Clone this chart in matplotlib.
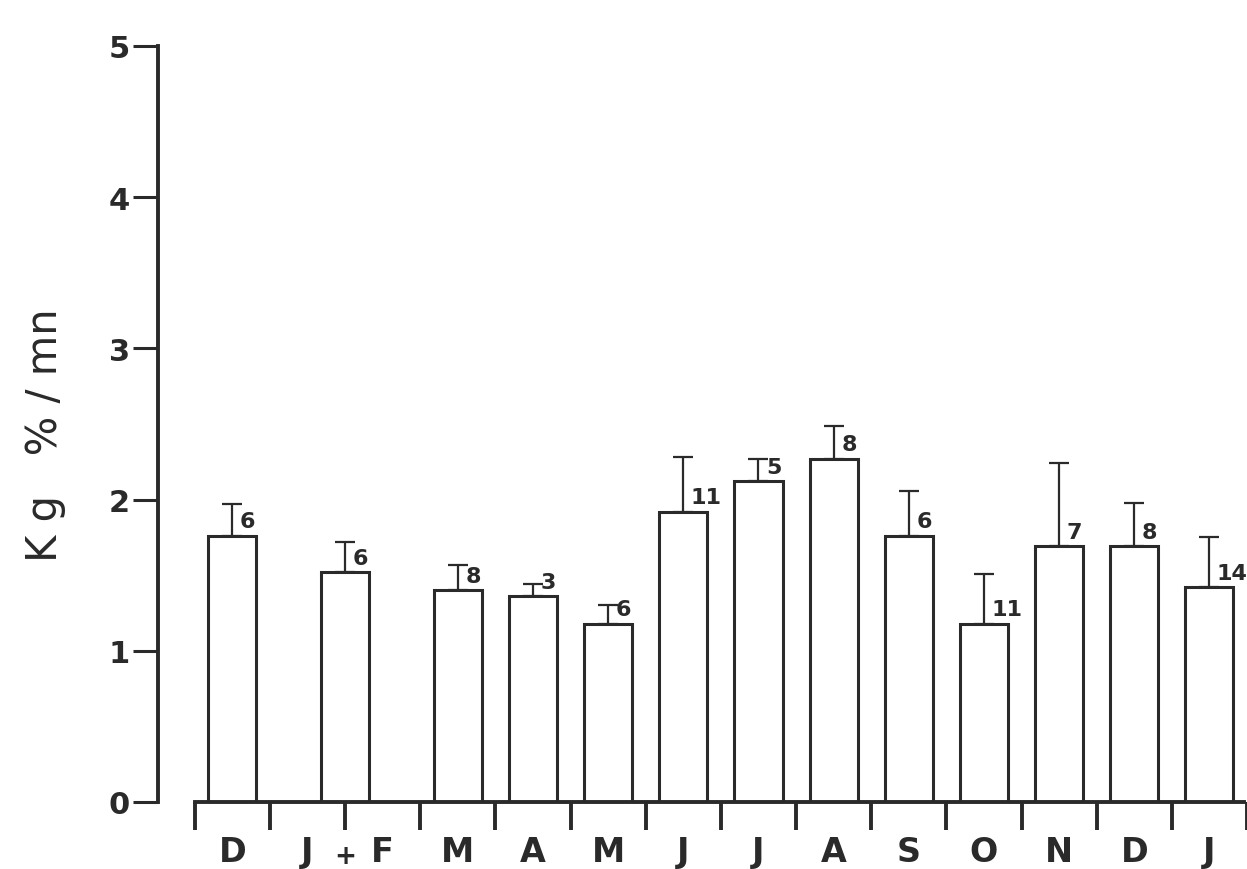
import matplotlib
matplotlib.use('Agg')
import matplotlib.pyplot as plt

# month groups, bar positions (in month units) and values
months = ['D', 'J+F', 'M', 'A', 'M', 'J', 'J', 'A', 'S', 'O', 'N', 'D', 'J']
positions = [0, 1.5, 3, 4, 5, 6, 7, 8, 9, 10, 11, 12, 13]
means = [1.76, 1.52, 1.40, 1.36, 1.18, 1.92, 2.12, 2.27, 1.76, 1.18, 1.69, 1.69, 1.42]
upper = [1.97, 1.72, 1.57, 1.44, 1.30, 2.28, 2.27, 2.49, 2.06, 1.51, 2.24, 1.98, 1.75]
counts = ['6', '6', '8', '3', '6', '11', '5', '8', '6', '11', '7', '8', '14']

axis_labels = ['D', 'J', 'F', 'M', 'A', 'M', 'J', 'J', 'A', 'S', 'O', 'N', 'D', 'J']
axis_label_pos = [0, 1, 2, 3, 4, 5, 6, 7, 8, 9, 10, 11, 12, 13]
plus_pos = 1.5

y_ticks = [0, 1, 2, 3, 4, 5]

ink = '#2a2a2a'
lw = 2.2

fig = plt.figure(figsize=(12.47, 8.70), dpi=100)
ax = fig.add_axes([158 / 1247, 67 / 870, 1 - 158 / 1247, 756 / 870])

ax.bar(positions, means, width=0.64, facecolor='white', edgecolor=ink,
       linewidth=lw, zorder=2)

for x, m, u, n in zip(positions, means, upper, counts):
    ax.errorbar([x], [m], yerr=[[0], [u - m]], fmt='none', ecolor=ink,
                elinewidth=1.6, capsize=7, capthick=1.6, zorder=3)
    ax.text(x + 0.1, m + 0.03, n, ha='left', va='bottom', fontsize=16,
            fontweight='bold', color=ink, zorder=4)

ax.set_xlim(-0.99, 13.46)
ax.set_ylim(0, 5)

for side in ['top', 'right']:
    ax.spines[side].set_visible(False)
for side in ['left', 'bottom']:
    ax.spines[side].set_linewidth(2.8)
    ax.spines[side].set_color(ink)
ax.spines['bottom'].set_bounds(-0.5, 13.46)

ax.set_yticks(y_ticks)
ax.set_yticklabels([str(t) for t in y_ticks], fontsize=22, fontweight='bold',
                   color=ink)
ax.tick_params(axis='y', length=18, width=2.2, color=ink, pad=2)

boundaries = [b - 0.5 for b in range(15)]
ax.set_xticks(boundaries)
ax.set_xticklabels([])
ax.tick_params(axis='x', which='major', direction='out', length=20, width=2.8,
               color=ink)
ax.set_xticks(axis_label_pos, minor=True)
ax.set_xticklabels(axis_labels, minor=True, fontsize=24, fontweight='bold',
                   color=ink)
ax.tick_params(axis='x', which='minor', length=0, pad=24)

# the "+" between J and F sits lower and smaller than the month letters
ax.text(plus_pos, -0.071, '+', transform=ax.get_xaxis_transform(),
        ha='center', va='center', fontsize=19, fontweight='bold', color=ink)

fig.text(45 / 1247, 1 - 435 / 870, 'K g   % / mn', rotation=90, ha='center',
         va='center', fontsize=30, color=ink)

fig.savefig('out.png', dpi=100)
